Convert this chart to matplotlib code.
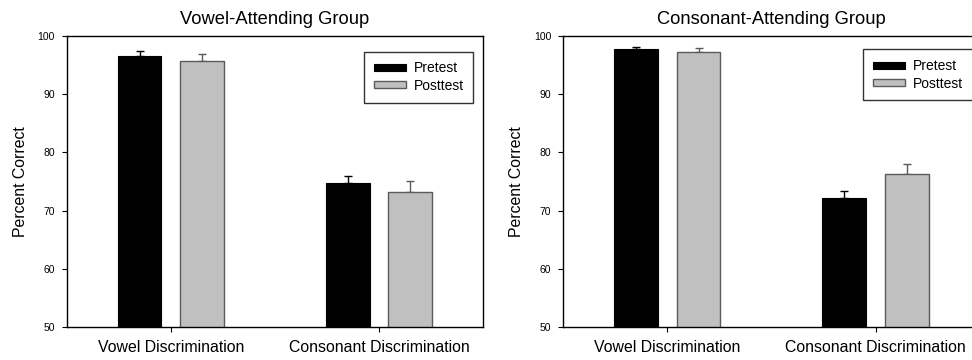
import matplotlib
matplotlib.use("Agg")
import matplotlib.pyplot as plt
import numpy as np
from matplotlib.patches import Patch

plt.rcParams['font.family'] = ['Liberation Sans', 'DejaVu Sans']

categories = ["Vowel Discrimination", "Consonant Discrimination"]
series_names = ["Pretest", "Posttest"]
titles = ["Vowel-Attending Group", "Consonant-Attending Group"]

vowel_group_pre = [96.5, 74.75]
vowel_group_pre_err = [1.0, 1.2]
vowel_group_post = [95.7, 73.25]
vowel_group_post_err = [1.15, 1.8]

cons_group_pre = [97.7, 72.1]
cons_group_pre_err = [0.4, 1.3]
cons_group_post = [97.3, 76.35]
cons_group_post_err = [0.6, 1.6]

yticks = [50, 60, 70, 80, 90, 100]

fig = plt.figure(figsize=(9.72, 3.6), dpi=100)
W, H = 972, 360
ax_left = fig.add_axes([66.7 / W, 1 - 327 / H, 416.3 / W, 291 / H])
ax_right = fig.add_axes([563.3 / W, 1 - 327 / H, 416.3 / W, 291 / H])

pre_color = "black"
post_color = "#c0c0c0"
post_edge = "#5a5a5a"

panels = [
    (ax_left, titles[0], vowel_group_pre, vowel_group_pre_err, vowel_group_post, vowel_group_post_err, (0.977, 0.946)),
    (ax_right, titles[1], cons_group_pre, cons_group_pre_err, cons_group_post, cons_group_post_err, (0.983, 0.954)),
]

x = np.arange(len(categories))
off = 0.15
bw = 0.21

for ax, title, pre, pre_err, post, post_err, anchor in panels:
    ax.bar(x - off, pre, width=bw, bottom=0, color=pre_color, edgecolor="black", linewidth=0.8, zorder=2)
    ax.bar(x + off, post, width=bw, bottom=0, color=post_color, edgecolor=post_edge, linewidth=1.0, zorder=2)
    ax.errorbar(x - off, pre, yerr=[np.zeros(len(pre)), pre_err], fmt="none",
                ecolor="black", elinewidth=1.0, capsize=3, capthick=1.0, zorder=1)
    ax.errorbar(x + off, post, yerr=[np.zeros(len(post)), post_err], fmt="none",
                ecolor=post_edge, elinewidth=1.0, capsize=3, capthick=1.0, zorder=1)
    ax.set_xlim(-0.5, 1.5)
    ax.set_ylim(50, 100)
    ax.set_yticks(yticks)
    ax.set_yticklabels([str(t) for t in yticks], fontsize=7.5)
    ax.set_xticks(x)
    ax.set_xticklabels(categories, fontsize=11.4)
    ax.tick_params(axis="y", direction="out", length=3.6, width=0.8, pad=5)
    ax.tick_params(axis="x", direction="out", length=3.6, width=0.8, pad=6)
    ax.set_ylabel("Percent Correct", fontsize=11.4, labelpad=7)
    ax.set_title(title, fontsize=13.2, pad=8.3)
    for s in ax.spines.values():
        s.set_linewidth(1.0)
    handles = [Patch(facecolor=pre_color, edgecolor="black", linewidth=0.8),
               Patch(facecolor=post_color, edgecolor=post_edge, linewidth=1.0)]
    leg = ax.legend(handles, series_names, loc="upper right", bbox_to_anchor=anchor,
                    borderaxespad=0, fontsize=10, frameon=True, fancybox=False, edgecolor="black",
                    handlelength=2.3, handleheight=0.4, borderpad=0.7, labelspacing=0.25,
                    handletextpad=0.55)
    leg.get_frame().set_linewidth(1.0)

fig.savefig("out.png", dpi=100)
